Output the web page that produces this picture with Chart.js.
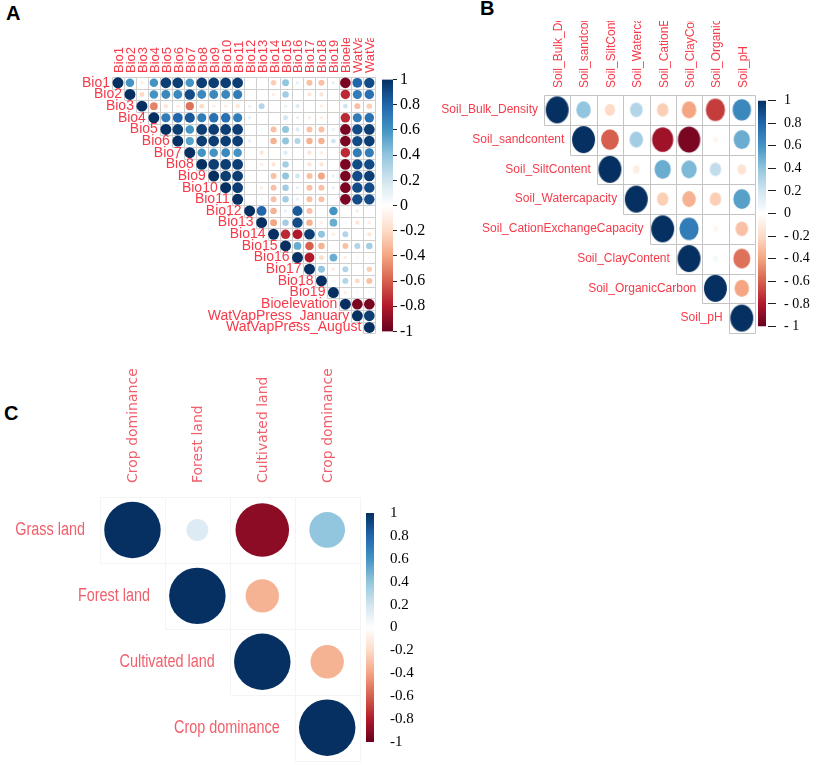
<!DOCTYPE html>
<html>
<head>
<meta charset="utf-8">
<title>Correlation plots</title>
<script src="https://cdn.jsdelivr.net/npm/chart.js@4.4.1/dist/chart.umd.min.js"></script>
<style>
  html, body { margin: 0; padding: 0; background: #fff; }
  #fig { position: relative; width: 816px; height: 765px; overflow: hidden; }
  canvas { position: absolute; }
  .tag { position: absolute; font: bold 20px "Liberation Sans", Arial, sans-serif; color: #000; }
</style>
</head>
<body>
<div id="fig">
  <div class="tag" style="left:6px;top:2px">A</div>
  <div class="tag" style="left:480px;top:-3px">B</div>
  <div class="tag" style="left:4px;top:402px">C</div>
  <canvas id="corrA" width="380" height="300" style="left:0;top:38px"></canvas>
  <canvas id="barA" width="50" height="277" style="left:382px;top:67px"></canvas>
  <canvas id="corrB" width="337" height="315" style="left:420px;top:21px"></canvas>
  <canvas id="barB" width="60" height="259" style="left:756px;top:84px"></canvas>
  <canvas id="corrC" width="364" height="405" style="left:0;top:360px"></canvas>
  <canvas id="barC" width="60" height="279" style="left:366px;top:488px"></canvas>
</div>
<script>
// panel A: climate variables
const bioLabels = ["Bio1", "Bio2", "Bio3", "Bio4", "Bio5", "Bio6", "Bio7", "Bio8", "Bio9", "Bio10", "Bio11",
  "Bio12", "Bio13", "Bio14", "Bio15", "Bio16", "Bio17", "Bio18", "Bio19",
  "Bioelevation", "WatVapPress_January", "WatVapPress_August"];
// each row starts on the diagonal
const bioRows = [
  [1, 0.6, -0.1, 0.6, 0.95, 0.95, 0.6, 0.95, 0.95, 0.95, 0.95, 0, 0, -0.25, 0.4, 0.1, -0.3, -0.3, 0.1, -0.95, 0.8, 0.9],
  [1, -0.2, 0.6, 0.65, 0.65, 0.9, 0.65, 0.65, 0.65, 0.7, 0, 0, -0.1, 0.35, 0, -0.15, -0.15, 0, -0.75, 0.7, 0.75],
  [1, -0.5, -0.15, -0.1, -0.55, -0.2, -0.1, -0.1, -0.15, 0.1, 0.3, 0, 0.1, 0.15, 0, -0.1, 0, 0.2, -0.3, -0.25],
  [1, 0.7, 0.8, 0.85, 0.7, 0.75, 0.75, 0.7, 0.1, 0, 0, 0.2, 0.1, -0.1, -0.1, 0, -0.75, 0.7, 0.75],
  [1, 0.95, 0.6, 0.95, 0.95, 0.95, 0.95, 0, 0.05, -0.3, 0.4, 0.15, -0.3, -0.3, 0.1, -0.95, 0.9, 0.95],
  [1, 0.55, 0.95, 0.95, 0.95, 0.95, 0.1, 0, -0.35, 0.4, 0.3, -0.35, -0.35, 0.2, -0.95, 0.9, 0.95],
  [1, 0.6, 0.6, 0.65, 0.6, 0, -0.15, 0, 0.15, 0, -0.15, -0.1, 0, -0.75, 0.7, 0.7],
  [1, 0.95, 0.95, 0.95, 0, -0.1, -0.15, 0.35, 0, -0.15, -0.15, 0, -0.95, 0.9, 0.9],
  [1, 0.95, 0.95, 0.05, 0, -0.3, 0.4, 0.2, -0.3, -0.4, 0.1, -0.95, 0.9, 0.95],
  [1, 0.95, 0, -0.1, -0.3, 0.35, 0.1, -0.3, -0.3, 0.1, -0.95, 0.9, 0.9],
  [1, 0, 0.05, -0.3, 0.35, 0.1, -0.3, -0.3, 0.05, -0.95, 0.9, 0.9],
  [1, 0.8, -0.35, 0.1, 0.85, -0.3, 0, 0.6, 0, -0.1, 0],
  [1, -0.4, 0.35, 0.9, -0.35, -0.1, 0.5, 0.05, -0.15, -0.1],
  [1, -0.75, -0.8, 0.95, 0.4, -0.1, 0.3, 0, -0.15],
  [1, 0.5, -0.6, -0.35, 0.05, -0.3, 0.3, 0.35],
  [1, -0.8, -0.2, 0.5, -0.1, 0.05, 0.05],
  [1, 0.4, -0.1, 0.3, 0, -0.25],
  [1, 0.05, 0.3, -0.2, -0.3],
  [1, -0.1, 0.05, 0.05],
  [1, -0.95, -0.95],
  [1, 0.95],
  [1]
];

// panel B: soil variables
const soilLabels = ["Soil_Bulk_Density", "Soil_sandcontent", "Soil_SiltContent", "Soil_Watercapacity",
  "Soil_CationExchangeCapacity", "Soil_ClayContent", "Soil_OrganicCarbon", "Soil_pH"];
const soilRows = [
  [1, 0.4, -0.2, 0.3, -0.25, -0.4, -0.7, 0.65],
  [1, -0.6, 0.35, -0.85, -0.95, -0.05, 0.5],
  [1, -0.1, 0.5, 0.45, 0.25, -0.15],
  [1, -0.25, -0.35, -0.25, 0.55],
  [1, 0.7, -0.05, -0.3],
  [1, 0.05, -0.55],
  [1, -0.4],
  [1]
];

// panel C: land cover
const landColLabels = ["Crop dominance", "Forest land", "Cultivated land", "Crop dominance"];
const landRowLabels = ["Grass land", "Forest land", "Cultivated land", "Crop dominance"];
const landRows = [
  [1, 0.15, -0.9, 0.4],
  [1, -0.35, 0],
  [1, -0.35],
  [1]
];

const barTicks = [-1, -0.8, -0.6, -0.4, -0.2, 0, 0.2, 0.4, 0.6, 0.8, 1];

const palette = ["#67001F", "#B2182B", "#D6604D", "#F4A582", "#FDDBC7", "#FFFFFF",
  "#D1E5F0", "#92C5DE", "#4393C3", "#2166AC", "#053061"];

const labelRed = "#f53b4a";

function hexToRgb(h) {
  const n = parseInt(h.slice(1), 16);
  return [(n >> 16) & 255, (n >> 8) & 255, n & 255];
}

function corrColor(v) {
  const t = (Math.max(-1, Math.min(1, v)) + 1) / 2 * (palette.length - 1);
  const i = Math.min(Math.floor(t), palette.length - 2);
  const f = t - i;
  const a = hexToRgb(palette[i]), b = hexToRgb(palette[i + 1]);
  const c = a.map((x, k) => Math.round(x + (b[k] - x) * f));
  return `rgb(${c[0]},${c[1]},${c[2]})`;
}

function toPoints(rows) {
  const pts = [];
  rows.forEach((row, i) => row.forEach((v, k) => pts.push({ x: i + k, y: i, v: v })));
  return pts;
}

const ellipseCache = {};
function ellipseImage(color, w, h) {
  const key = color + "|" + w.toFixed(1) + "|" + h.toFixed(1);
  if (!ellipseCache[key]) {
    const cv = document.createElement("canvas");
    cv.width = Math.ceil(w) + 2;
    cv.height = Math.ceil(h) + 2;
    const g = cv.getContext("2d");
    g.fillStyle = color;
    g.beginPath();
    g.ellipse(cv.width / 2, cv.height / 2, w / 2, h / 2, 0, 0, Math.PI * 2);
    g.fill();
    ellipseCache[key] = cv;
  }
  return ellipseCache[key];
}

// grid of the upper triangle + staircase row labels
const corrPlugin = {
  id: "corr",
  beforeDatasetsDraw(chart, args, o) {
    if (!o.gridColor) return;
    const { ctx, chartArea: a } = chart;
    const n = o.labels.length;
    const cw = (a.right - a.left) / n, ch = (a.bottom - a.top) / n;
    const px = j => Math.round(a.left + j * cw) + 0.5;
    const py = i => Math.round(a.top + i * ch) + 0.5;
    ctx.save();
    ctx.strokeStyle = o.gridColor;
    ctx.lineWidth = 1;
    ctx.beginPath();
    for (let i = 0; i < n; i++) {
      for (let j = i; j < n; j++) {
        ctx.rect(px(j), py(i), px(j + 1) - px(j), py(i + 1) - py(i));
      }
    }
    ctx.stroke();
    ctx.restore();
  },
  afterDraw(chart, args, o) {
    const { ctx, chartArea: a, scales } = chart;
    const cw = (a.right - a.left) / o.labels.length;
    ctx.save();
    ctx.font = o.font;
    ctx.fillStyle = o.color;
    ctx.textAlign = "right";
    ctx.textBaseline = "middle";
    o.labels.forEach((t, i) => {
      ctx.save();
      ctx.translate(scales.x.getPixelForValue(i) - cw / 2 - o.gap, scales.y.getPixelForValue(i));
      ctx.scale(o.scaleX || 1, 1);
      ctx.fillText(t, 0, 0);
      ctx.restore();
    });
    ctx.restore();
  }
};

function corrChart(id, cfg) {
  const n = cfg.rowLabels.length;
  const cell = c => {
    const a = c.chart.chartArea;
    return a ? [(a.right - a.left) / n, (a.bottom - a.top) / n] : [10, 10];
  };
  const ds = {
    data: toPoints(cfg.rows),
    clip: false,
    pointBorderWidth: 0,
    pointBackgroundColor: c => c.raw ? corrColor(c.raw.v) : "#fff",
    pointRadius: c => {
      if (!c.raw) return 0;
      const s = Math.sqrt(Math.abs(c.raw.v));
      if (cfg.ellipse) return s > 0.1 ? 2 : 0;
      const [cw, ch] = cell(c);
      return cfg.size * Math.min(cw, ch) * s;
    }
  };
  ds.pointHoverRadius = ds.pointRadius;
  if (cfg.ellipse) {
    ds.pointStyle = c => {
      if (!c.raw) return "circle";
      const s = Math.sqrt(Math.abs(c.raw.v));
      const [cw, ch] = cell(c);
      return ellipseImage(corrColor(c.raw.v), cfg.ellipse[0] * cw * s, cfg.ellipse[1] * ch * s);
    };
  }
  return new Chart(document.getElementById(id), {
    type: "scatter",
    data: { datasets: [ds] },
    options: {
      responsive: false,
      animation: false,
      events: [],
      layout: { padding: cfg.padding },
      plugins: {
        legend: { display: false },
        tooltip: { enabled: false },
        corr: { labels: cfg.rowLabels, gridColor: cfg.gridColor, font: cfg.rowFont, color: cfg.labelColor,
          gap: cfg.gap, scaleX: cfg.rowScaleX }
      },
      scales: {
        x: {
          type: "linear",
          position: "top",
          min: -0.5,
          max: n - 0.5,
          afterBuildTicks: s => { s.ticks = cfg.colLabels.map((_, i) => ({ value: i })); },
          afterFit: s => { s.height = cfg.headHeight; },
          grid: { display: false, drawTicks: false },
          border: { display: false },
          ticks: {
            autoSkip: false,
            minRotation: 90,
            maxRotation: 90,
            padding: cfg.headPad,
            labelOffset: Math.round(cfg.colFont.size * 1.2 + 1.5),
            color: cfg.labelColor,
            font: cfg.colFont,
            callback: v => cfg.colLabels[v]
          }
        },
        y: { type: "linear", display: false, reverse: true, min: -0.5, max: n - 0.5 }
      }
    },
    plugins: [corrPlugin]
  });
}

function colorBar(id, o) {
  return new Chart(document.getElementById(id), {
    type: "bar",
    data: {
      labels: [""],
      datasets: [{
        data: [[-1, 1]],
        borderWidth: 0,
        barPercentage: o.barPct,
        categoryPercentage: 1,
        backgroundColor: c => {
          const a = c.chart.chartArea;
          if (!a) return palette[5];
          const g = c.chart.ctx.createLinearGradient(0, a.bottom, 0, a.top);
          palette.forEach((p, i) => g.addColorStop(i / (palette.length - 1), p));
          return g;
        }
      }]
    },
    options: {
      responsive: false,
      animation: false,
      events: [],
      layout: { padding: { top: 10, bottom: 10 } },
      plugins: { legend: { display: false }, tooltip: { enabled: false } },
      scales: {
        x: { display: false },
        y: {
          position: "right",
          min: -1,
          max: 1,
          afterBuildTicks: s => { s.ticks = barTicks.map(v => ({ value: v })); },
          afterFit: s => { s.width = o.axisWidth; },
          border: { display: false },
          grid: { drawOnChartArea: false, drawTicks: o.tickLen > 0, tickLength: o.tickLen, color: "#222" },
          ticks: { padding: o.pad, color: "#000", font: o.font, callback: v => o.fmt(Math.round(v * 10) / 10) }
        }
      }
    }
  });
}

const plain = v => String(v);
const spaced = v => v < 0 ? "- " + (-v) : String(v);

corrChart("corrA", {
  rowLabels: bioLabels, colLabels: bioLabels, rows: bioRows,
  padding: { left: 112, right: 1, bottom: 2 },
  headHeight: 39, headPad: 4, size: 0.47, gap: 2,
  gridColor: "#cfcfcf", labelColor: labelRed,
  rowFont: '14px "Liberation Sans", Arial, sans-serif',
  colFont: { family: '"Liberation Sans", Arial, sans-serif', size: 13 }
});
colorBar("barA", { axisWidth: 39, barPct: 1, tickLen: 4, pad: 3, fmt: plain,
  font: { family: '"Liberation Serif", "Times New Roman", serif', size: 16 } });

corrChart("corrB", {
  rowLabels: soilLabels, colLabels: soilLabels, rows: soilRows,
  padding: { left: 124, right: 2, bottom: 3 },
  headHeight: 74, headPad: 7, ellipse: [0.87, 0.9], gap: 6,
  gridColor: "#c4c4c4", labelColor: labelRed,
  rowFont: '12px "Liberation Sans", Arial, sans-serif',
  colFont: { family: '"Liberation Sans", Arial, sans-serif', size: 12 }
});
colorBar("barB", { axisWidth: 48, barPct: 8 / 12, tickLen: 8, pad: 8, fmt: spaced,
  font: { family: '"Liberation Serif", "Times New Roman", serif', size: 14 } });

corrChart("corrC", {
  rowLabels: landRowLabels, colLabels: landColLabels, rows: landRows,
  padding: { left: 100, right: 1, bottom: 4 },
  headHeight: 137, headPad: 14, size: 0.435, gap: 15, rowScaleX: 0.8,
  gridColor: "#f4f4f4", labelColor: "#f0606c",
  rowFont: '18px "Liberation Sans", sans-serif',
  colFont: { family: '"DejaVu Sans", sans-serif', size: 14 }
});
colorBar("barC", { axisWidth: 52, barPct: 1, tickLen: 0, pad: 16, fmt: plain,
  font: { family: '"Liberation Serif", "Times New Roman", serif', size: 15 } });
</script>
</body>
</html>
